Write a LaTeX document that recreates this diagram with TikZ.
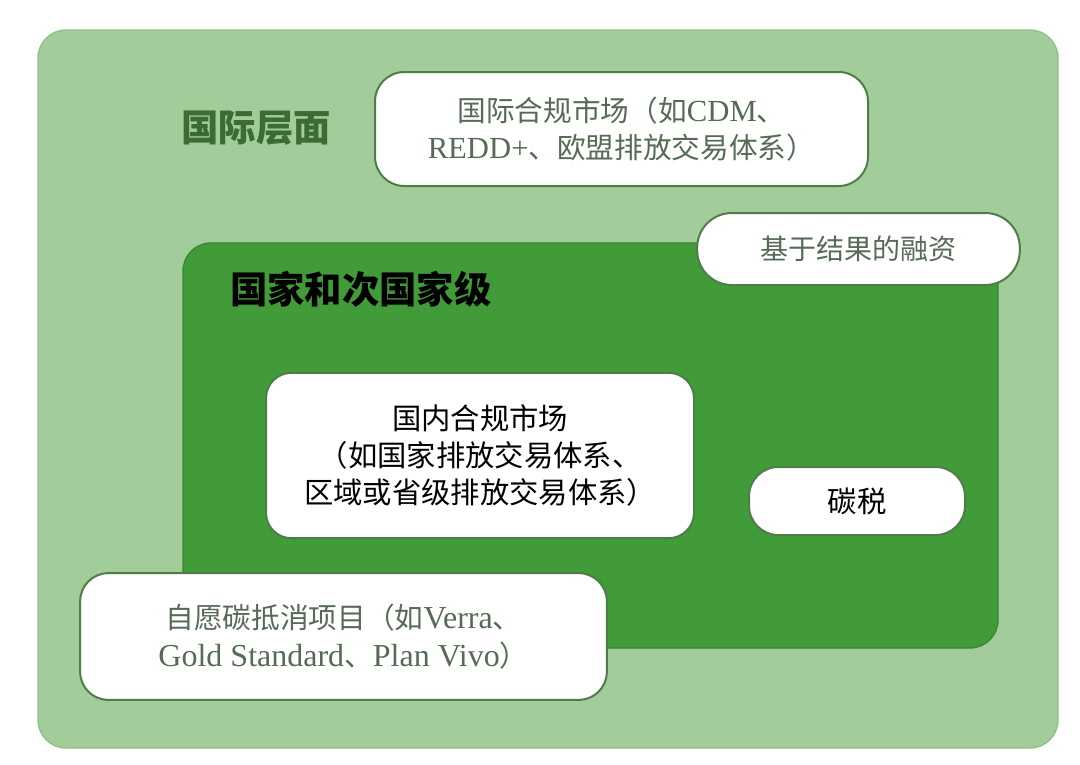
\documentclass[tikz,border=0pt]{standalone}
\usepackage{fontspec}
\setmainfont{Liberation Serif}
\newfontfamily\cjk{Noto Sans CJK SC}
\newcommand{\latin}[2]{{\fontsize{#1}{28}\selectfont #2}}
\definecolor{lightg}{HTML}{A2CD9B}
\definecolor{lightgb}{HTML}{8FBF88}
\definecolor{darkg}{HTML}{409B38}
\definecolor{darkgb}{HTML}{3A8532}
\definecolor{boxb}{HTML}{4E7D47}
\definecolor{graytxt}{HTML}{566B55}
\definecolor{labelg}{HTML}{3D6B35}
\tikzset{
  wbox/.style={draw=boxb, line width=1.5pt, fill=white, align=center, inner sep=0pt},
  greytext/.style={text=graytxt},
  blacktext/.style={text=black},
  lvl/.style={inner sep=0pt, font=\cjk\bfseries\fontsize{28}{32}\selectfont},
}
\begin{document}
\begin{tikzpicture}[x=0.75pt,y=-0.75pt]
\useasboundingbox (0,0) rectangle (1080,764);
\fill[white] (0,0) rectangle (1080,764);
% outer international level
\draw[fill=lightg, draw=lightgb, line width=1pt, rounded corners=21pt] (38,30) rectangle (1058,748);
% national level
\draw[fill=darkg, draw=darkgb, line width=1pt, rounded corners=21pt] (183,243) rectangle (998,648);
% labels
\node[lvl, text=labelg] (intlLabel) at (256,128) {国际层面};
\node[lvl, text=black, anchor=west] (natLabel) at (230,289) {国家和次国家级};
% boxes
\node[wbox, greytext, rounded corners=22pt, minimum width=369.75pt, minimum height=85.5pt,
      font=\fontsize{21.5}{27.75}\selectfont] (intl) at (621.5,129)
  {{\cjk 国际合规市场（如}\latin{23}{CDM}{\cjk 、}\\\latin{23}{REDD+}{\cjk 、欧盟排放交易体系）}};
\node[wbox, greytext, rounded corners=26pt, minimum width=242pt, minimum height=54pt,
      font=\cjk\fontsize{21}{26}\selectfont] (rbf) at (858.5,249) {基于结果的融资};
\node[wbox, blacktext, rounded corners=19pt, minimum width=321pt, minimum height=124pt,
      font=\cjk\fontsize{22}{27.75}\selectfont] (domestic) at (480,455.5)
  {国内合规市场\\（如国家排放交易体系、\\区域或省级排放交易体系）};
\node[wbox, blacktext, rounded corners=22pt, minimum width=162pt, minimum height=51pt,
      font=\cjk\fontsize{22}{26}\selectfont] (tax) at (857,501) {碳税};
\node[wbox, greytext, rounded corners=21pt, minimum width=395pt, minimum height=95pt,
      font=\fontsize{21.5}{28.5}\selectfont] (vol) at (343.5,636.5)
  {{\cjk 自愿碳抵消项目（如}\latin{24}{Verra}{\cjk 、}\\\latin{24}{Gold Standard}{\cjk 、}\latin{24}{Plan Vivo}{\cjk ）}};
\end{tikzpicture}
\end{document}
